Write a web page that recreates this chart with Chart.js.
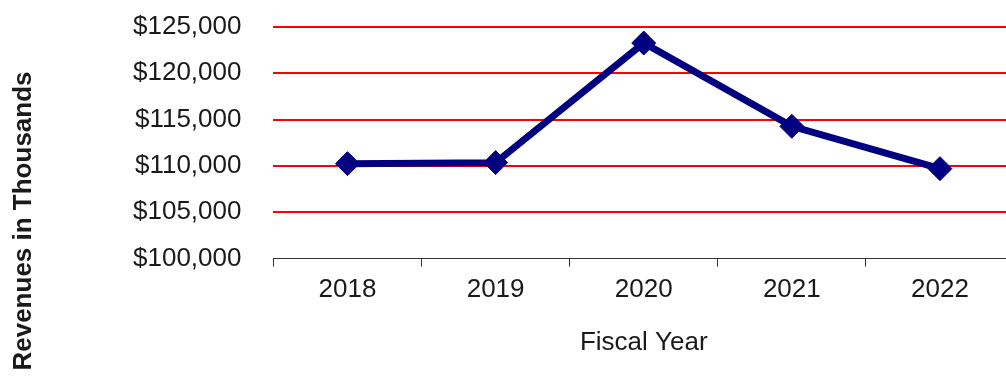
<!DOCTYPE html>
<html lang="en">
<head>
    <meta charset="UTF-8">
    <title>Revenues in Thousands</title>
    <script src="https://cdn.jsdelivr.net/npm/chart.js"></script>
    <style>
        html, body {
            margin: 0;
            padding: 0;
            background: #ffffff;
            overflow: hidden;
        }
        .chart-box {
            position: relative;
            width: 1027px;
            height: 378px;
        }
    </style>
</head>
<body>
    <div class="chart-box">
        <canvas id="revenueChart"></canvas>
    </div>

    <script>
        // Revenues by fiscal year, in thousands of dollars
        const years = ['2018', '2019', '2020', '2021', '2022'];
        const revenues = [110250, 110360, 123270, 114280, 109710];
        const yTicks = [100000, 105000, 110000, 115000, 120000, 125000];

        const FONT = '"Liberation Sans", Arial, sans-serif';

        // vertical axis title, drawn by hand so it can sit lower than the plot center
        const sideTitle = {
            id: 'sideTitle',
            afterDraw(chart) {
                const ctx = chart.ctx;
                ctx.save();
                ctx.translate(31, 221);
                ctx.rotate(-Math.PI / 2);
                ctx.font = 'bold 26px ' + FONT;
                ctx.fillStyle = '#1a1a1a';
                ctx.textAlign = 'center';
                ctx.textBaseline = 'alphabetic';
                ctx.fillText('Revenues in Thousands', 0, 0);
                ctx.restore();
            }
        };

        new Chart(document.getElementById('revenueChart'), {
            type: 'line',
            data: {
                labels: years,
                datasets: [{
                    data: revenues,
                    borderColor: '#000080',
                    backgroundColor: '#000080',
                    borderWidth: 7,
                    tension: 0,
                    pointStyle: 'rectRot',
                    pointRadius: 12,
                    pointBorderWidth: 1,
                    pointBorderColor: '#000080',
                    pointBackgroundColor: '#000080'
                }]
            },
            options: {
                responsive: true,
                maintainAspectRatio: false,
                animation: false,
                layout: {
                    padding: { left: 101, right: 4, top: 27, bottom: 20 }
                },
                plugins: {
                    legend: { display: false },
                    tooltip: { enabled: false }
                },
                scales: {
                    x: {
                        offset: true,
                        grid: {
                            offset: true,
                            drawOnChartArea: false,
                            drawTicks: true,
                            tickLength: 8,
                            color: '#333333',
                            lineWidth: 1
                        },
                        border: { display: true, color: '#333333', width: 1 },
                        ticks: {
                            padding: 8,
                            color: '#1a1a1a',
                            font: { family: FONT, size: 26 }
                        },
                        title: {
                            display: true,
                            text: 'Fiscal Year',
                            color: '#1a1a1a',
                            font: { family: FONT, size: 26 },
                            padding: { top: 13, bottom: 0 }
                        }
                    },
                    y: {
                        min: 100000,
                        max: 125000,
                        afterBuildTicks(axis) {
                            axis.ticks = yTicks.map(v => ({ value: v }));
                        },
                        // the label gap should not push the plot down from the top
                        afterFit(axis) {
                            axis.paddingTop = 0;
                            axis.paddingBottom = 0;
                        },
                        grid: {
                            drawTicks: false,
                            lineWidth: 2,
                            color: ctx => ctx.tick && ctx.tick.value === 100000 ? 'rgba(0,0,0,0)' : '#ff0000'
                        },
                        border: { display: false },
                        ticks: {
                            padding: 32,
                            color: '#1a1a1a',
                            font: { family: FONT, size: 26 },
                            callback: v => '$' + v.toLocaleString('en-US')
                        }
                    }
                }
            },
            plugins: [sideTitle]
        });
    </script>
</body>
</html>
